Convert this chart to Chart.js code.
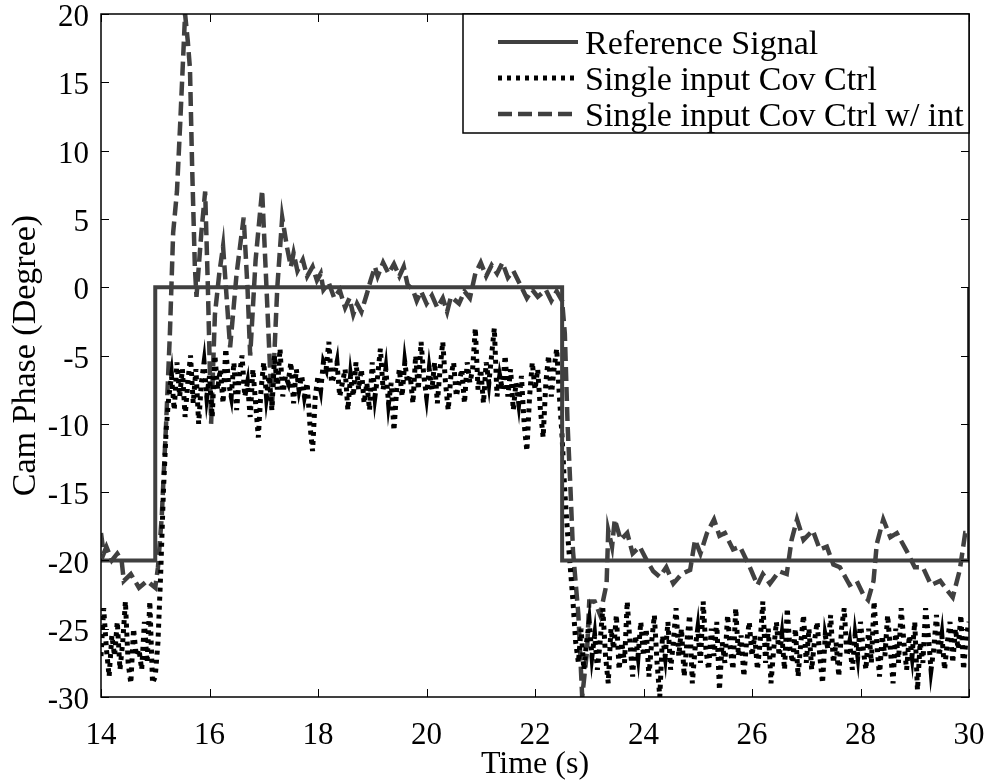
<!DOCTYPE html>
<html>
<head>
<meta charset="utf-8">
<title>Cam Phase</title>
<script src="https://cdn.jsdelivr.net/npm/chart.js@4.4.1/dist/chart.umd.min.js"></script>
<style>
  html, body { margin: 0; padding: 0; background: #fff; }
</style>
</head>
<body>
<canvas id="camChart" width="990" height="784"></canvas>
<script>
// reference step signal
const refTime = [14, 15, 15, 22.5, 22.5, 30, 30];
const refPhase = [-20, -20, 0, 0, -20, -20, 0];

// single input cov ctrl, sampled every 0.05 s from 14 s
const covStart = 14;
const covStep = 0.05;
const covPhase = [
  -27, -23.5, -26.5, -28.5, -25.5, -27, -24.5, -28, -26, -23, -27.5, -29, -25, -27, -26.5, -28, -24.5, -27.5, -23, -29,
  -28.5, -26, -21, -15, -10.5, -8, -6.5, -9, -5.5, -8, -6, -9.5, -7, -5, -8.5, -6, -10, -7, -5.5, -8,
  -6.5, -9.5, -5, -7.5, -6, -8.5, -4.5, -7, -8, -5.5, -9, -6.5, -5, -8, -7, -9.5, -6, -8.5, -11, -7.5,
  -5.5, -8, -6.5, -9, -5, -7.5, -4.5, -8, -6.5, -7, -5.5, -8.5, -6, -7.5, -6.5, -8, -7, -10, -12, -8,
  -6.5, -7.5, -5.5, -6, -4, -7, -6.5, -5.5, -8, -7, -6, -9, -6.5, -8, -5.5, -7.5, -6, -8.5, -7, -9,
  -5.5, -8, -6.5, -4.5, -7.5, -6, -8.5, -7, -10.5, -7.5, -6, -8, -5.5, -7, -6.5, -8.5, -5, -7.5, -4, -6.5,
  -8, -6, -7.5, -5.5, -8.5, -6, -4, -7, -9, -6.5, -5.5, -8, -7, -6, -8.5, -5.5, -7, -6, -3, -7.5,
  -6, -8.5, -5.5, -7, -5, -3, -8, -6.5, -7.5, -5, -8, -6, -9, -7, -8.5, -6.5, -10, -12, -8, -5.5,
  -7.5, -6, -9, -11, -7, -5, -8, -6, -4.5, -8, -11, -15, -18, -20.5, -23, -26, -27.5, -25, -28, -26,
  -24.5, -27, -25.5, -28, -26, -23.5, -27, -29, -25, -26.5, -24, -28, -26, -27.5, -23, -26, -28.5, -25.5, -27, -24.5,
  -27, -25, -28.5, -26, -24, -27.5, -30, -25.5, -27, -24.5, -28, -26, -23.5, -27, -25, -28.5, -26, -24, -29, -26.5,
  -25, -27.5, -23, -26.5, -28, -25, -27, -24.5, -29.5, -26, -27.5, -24, -26.5, -28, -23.5, -27, -25.5, -28.5, -26, -24.5,
  -27, -25.5, -28, -26, -23, -27.5, -25, -29, -26.5, -24.5, -27, -25.5, -28, -23.5, -26.5, -27.5, -25, -28.5, -26, -24,
  -27.5, -25, -28, -26, -24.5, -27, -29, -25.5, -26.5, -24, -27.5, -26, -28.5, -25, -23.5, -27, -26, -28, -25.5, -27,
  -24.5, -26.5, -28, -25, -27.5, -23, -26, -28.5, -25.5, -27, -24, -26.5, -29, -25, -27.5, -23.5, -26, -28, -25.5, -27,
  -24.5, -29.5, -26, -27.5, -23.5, -25.5, -28, -26.5, -24, -27, -25.5, -28, -26, -24.5, -27.5, -25, -26.5, -24, -28, -25.5,
  -24.5
];
const covTime = covPhase.map((_, i) => covStart + i * covStep);

// single input cov ctrl with integrator
const intTime = [
  14.0, 14.05, 14.1, 14.2, 14.3, 14.38, 14.42, 14.55, 14.7, 14.85, 15.0, 15.05, 15.12, 15.2, 15.27, 15.33,
  15.4, 15.46, 15.55, 15.6, 15.64, 15.68, 15.73, 15.76, 15.85, 15.92, 15.97, 16.03, 16.1, 16.18, 16.25, 16.32,
  16.38, 16.5, 16.63, 16.7, 16.75, 16.85, 16.97, 17.05, 17.15, 17.25, 17.34, 17.43, 17.5, 17.55, 17.62, 17.72,
  17.8, 17.9, 17.98, 18.05, 18.1, 18.2, 18.3, 18.4, 18.5, 18.58, 18.65, 18.72, 18.8, 18.9, 18.97, 19.05,
  19.1, 19.2, 19.3, 19.4, 19.5, 19.58, 19.65, 19.75, 19.82, 19.9, 20.0, 20.1, 20.2, 20.3, 20.38, 20.45,
  20.6, 20.7, 20.8, 20.9, 21.0, 21.1, 21.2, 21.3, 21.4, 21.5, 21.6, 21.75, 21.85, 21.95, 22.05, 22.2,
  22.3, 22.4, 22.5, 22.55, 22.6, 22.65, 22.7, 22.8, 22.87, 22.96, 23.0, 23.1, 23.2, 23.32, 23.35, 23.42,
  23.47, 23.58, 23.7, 23.8, 23.93, 24.06, 24.18, 24.3, 24.42, 24.55, 24.7, 24.86, 24.95, 25.05, 25.17, 25.3,
  25.4, 25.5, 25.65, 25.78, 25.96, 26.1, 26.2, 26.33, 26.5, 26.64, 26.73, 26.83, 26.95, 27.12, 27.25, 27.38,
  27.5, 27.62, 27.8, 27.93, 28.05, 28.14, 28.24, 28.3, 28.42, 28.55, 28.67, 28.85, 29.0, 29.15, 29.3, 29.47,
  29.6, 29.7, 29.83, 29.93, 30.0
];
const intPhase = [
  -18, -19.5, -19, -20, -19.5, -20, -21.5, -21, -22, -21.5, -22, -20.5, -16.8, -10, -3.4, 4,
  7, 12, 20, 18, 16, 8.8, 1.5, -0.7, 4, 7, 0, -10, -2, 1, 3, -1,
  -4.4, 1, 5.1, 0, -5, 2, 7.1, 0, -9, 0, 5.1, 2.9, 1.5, 2.5, 1.2, 2,
  0.8, 1.5, 0.5, 1, -0.2, 0.3, -0.8, -0.2, -1.5, -0.8, -2, -1.2, -1.8, -0.5, 0.5, 1.5,
  0.8, 1.8, 1, 1.7, 0.8, 1.5, 0.2, -0.2, -1, -0.3, -1.2, -0.6, -1.5, -0.8, -1.8, -0.7,
  -1.2, -0.3, -0.8, 1, 1.8, 0.8, 1.6, 1, 1.8, 0.7, 1.2, 0, -0.8, -0.2, -0.7, -0.2,
  -1, -0.3, -1, -3.4, -10, -14.4, -19.3, -24, -30, -26.6, -23, -23, -24, -21.7, -17.8, -19,
  -17, -18.5, -18, -19.5, -19, -20, -20.8, -21.2, -20.5, -21.7, -21, -20.7, -18.5, -19.5, -18, -17,
  -18.2, -18, -19.2, -19, -20.5, -21.8, -21, -21.7, -20.8, -21, -18.5, -17, -18.5, -17.8, -19.2, -19,
  -20.3, -20.5, -21.8, -21.5, -22.5, -22.9, -21.5, -18.8, -17, -18.3, -18, -19.3, -20.5, -20.5, -21.8, -21.5,
  -22.2, -22.7, -20.7, -18, -18
];

const xTicks = [14, 16, 18, 20, 22, 24, 26, 28, 30];
const yTicks = [-30, -25, -20, -15, -10, -5, 0, 5, 10, 15, 20];

const serif = "'Liberation Serif', 'Times New Roman', serif";
const gray = '#404040';

function toPoints(xs, ys) {
  return xs.map((x, i) => ({ x: x, y: ys[i] }));
}

// box around the plot with inward tick marks on all four sides
const frame = {
  id: 'frame',
  afterDatasetsDraw(chart) {
    const { ctx, chartArea: a, scales } = chart;
    const len = 8;
    ctx.save();
    ctx.strokeStyle = '#000';
    ctx.lineWidth = 1.5;
    ctx.strokeRect(a.left, a.top, a.right - a.left, a.bottom - a.top);
    ctx.lineWidth = 1;
    ctx.beginPath();
    xTicks.forEach((v) => {
      const px = Math.round(scales.x.getPixelForValue(v)) + 0.5;
      ctx.moveTo(px, a.bottom); ctx.lineTo(px, a.bottom - len);
      ctx.moveTo(px, a.top); ctx.lineTo(px, a.top + len);
    });
    yTicks.forEach((v) => {
      const py = Math.round(scales.y.getPixelForValue(v)) + 0.5;
      ctx.moveTo(a.left, py); ctx.lineTo(a.left + len, py);
      ctx.moveTo(a.right, py); ctx.lineTo(a.right - len, py);
    });
    ctx.stroke();
    ctx.restore();
  }
};

// legend box in the top right corner
const boxLegend = {
  id: 'boxLegend',
  afterDraw(chart) {
    const { ctx, chartArea: a } = chart;
    const w = 506, h = 119;
    const x0 = a.right - w, y0 = a.top;
    ctx.save();
    ctx.fillStyle = '#fff';
    ctx.fillRect(x0, y0, w, h);
    ctx.strokeStyle = '#000';
    ctx.lineWidth = 1.5;
    ctx.strokeRect(x0, y0, w, h);
    chart.data.datasets.forEach((ds, i) => {
      const y = y0 + 28 + i * 36;
      ctx.beginPath();
      ctx.strokeStyle = ds.borderColor;
      ctx.lineWidth = ds.borderWidth;
      ctx.setLineDash(ds.borderDash || []);
      ctx.moveTo(x0 + 35, y);
      ctx.lineTo(x0 + 115, y);
      ctx.stroke();
      ctx.setLineDash([]);
      ctx.fillStyle = '#000';
      ctx.font = '34px ' + serif;
      ctx.textBaseline = 'middle';
      ctx.fillText(ds.label, x0 + 122, y + 3);
    });
    ctx.restore();
  }
};

new Chart(document.getElementById('camChart'), {
  type: 'line',
  data: {
    datasets: [
      {
        label: 'Reference Signal',
        data: toPoints(refTime, refPhase),
        borderColor: gray,
        borderWidth: 4,
        pointRadius: 0,
        tension: 0
      },
      {
        label: 'Single input Cov Ctrl',
        data: toPoints(covTime, covPhase),
        borderColor: '#000',
        borderWidth: 5,
        borderDash: [4, 5],
        pointRadius: 0,
        tension: 0
      },
      {
        label: 'Single input Cov Ctrl w/ int',
        data: toPoints(intTime, intPhase),
        borderColor: gray,
        borderWidth: 4.5,
        borderDash: [14, 6],
        pointRadius: 0,
        tension: 0
      }
    ]
  },
  options: {
    responsive: false,
    animation: false,
    layout: { padding: { left: 0, right: 21, top: 14, bottom: 0 } },
    plugins: {
      legend: { display: false },
      tooltip: { enabled: false }
    },
    scales: {
      x: {
        type: 'linear',
        min: 14,
        max: 30,
        afterBuildTicks: (scale) => { scale.ticks = xTicks.map((v) => ({ value: v })); },
        afterFit: (scale) => {
          scale.height = 87;
          scale.paddingLeft = 0;
          scale.paddingRight = 0;
        },
        grid: { display: false, drawTicks: false },
        border: { display: false },
        ticks: { color: '#000', padding: 20, maxRotation: 0, font: { family: serif, size: 31 } },
        title: {
          display: true,
          text: 'Time (s)',
          color: '#000',
          font: { family: serif, size: 32 },
          padding: { top: 0, bottom: 0 }
        }
      },
      y: {
        min: -30,
        max: 20,
        afterBuildTicks: (scale) => { scale.ticks = yTicks.map((v) => ({ value: v })); },
        afterFit: (scale) => {
          scale.width = 101;
          scale.paddingTop = 0;
          scale.paddingBottom = 0;
        },
        grid: { display: false, drawTicks: false },
        border: { display: false },
        ticks: { color: '#000', padding: 12, labelOffset: 4, font: { family: serif, size: 31 } },
        title: {
          display: true,
          text: 'Cam Phase (Degree)',
          color: '#000',
          font: { family: serif, size: 34 },
          padding: { top: 6, bottom: 0 }
        }
      }
    }
  },
  plugins: [frame, boxLegend]
});
</script>
</body>
</html>
